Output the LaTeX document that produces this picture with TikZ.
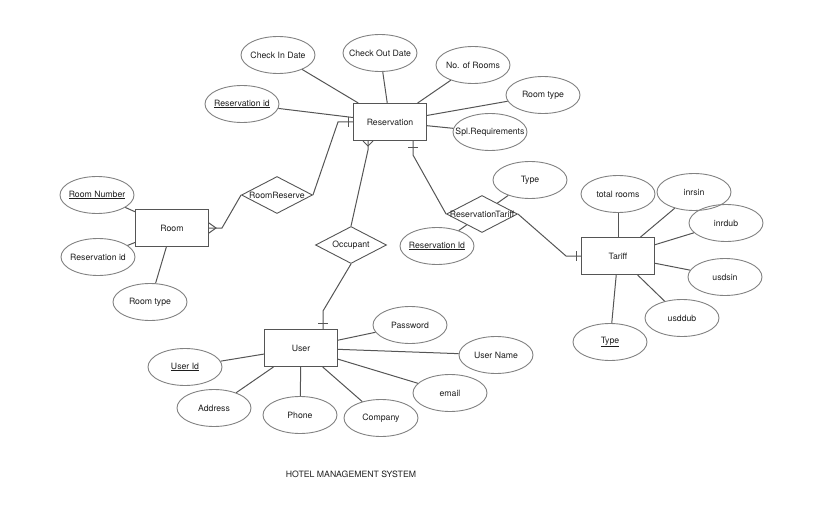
\documentclass[tikz,border=0pt]{standalone}
\usepackage{fontspec}
\setmainfont{TeX Gyre Heros}
\usetikzlibrary{shapes.geometric}
\definecolor{linegray}{RGB}{85,85,85}
\definecolor{rimgray}{RGB}{130,130,130}
\definecolor{textgray}{RGB}{30,30,30}
\tikzset{
  entity/.style={draw=linegray, line width=1pt, minimum width=73pt, minimum height=37pt, inner sep=0pt},
  attribute/.style={ellipse, draw=rimgray, line width=0.9pt, minimum width=74pt, minimum height=37pt, inner sep=0pt},
  relation/.style={diamond, draw=linegray, line width=0.9pt, minimum width=71pt, minimum height=37pt, inner sep=0pt},
  link/.style={draw=linegray, line width=1pt},
}
\begin{document}
\begin{tikzpicture}[x=1pt, y=-1pt, font=\fontsize{8.7}{10}\selectfont, text=textgray]
        \useasboundingbox (0,0) rectangle (823,511);
        % entities
        \node[entity] (resv) at (390,122) {Reservation};
        \node[entity] (room) at (172,228) {Room};
        \node[entity] (tariff) at (618,256) {Tariff};
        \node[entity] (user) at (301,348) {User};
        % relations
        \node[relation, label=center:RoomReserve] (roomreserve) at (277,195) {};
        \node[relation, label=center:Occupant] (occupant) at (351,245) {};
        \node[relation, label=center:ReservationTariff] (resvtariff) at (482,214) {};
        % reservation attributes
        \node[attribute, label=center:{\underline{Reservation id}}] (resvid) at (242,104) {};
        \node[attribute, label=center:Check In Date] (checkin) at (278,55) {};
        \node[attribute, label=center:Check Out Date] (checkout) at (380,53) {};
        \node[attribute, label=center:No. of Rooms] (numrooms) at (473,65) {};
        \node[attribute, label=center:Room type] (resvroomtype) at (543,95) {};
        \node[attribute, label=center:Spl.Requirements] (splreq) at (490,132) {};
        % room attributes
        \node[attribute, label=center:{\underline{Room Number}}] (roomnum) at (97,195) {};
        \node[attribute, label=center:Reservation id] (roomresvid) at (98,257) {};
        \node[attribute, label=center:Room type] (roomtype) at (150,302) {};
        % reservation tariff attributes
        \node[attribute, label=center:Type] (rtype) at (530,180) {};
        \node[attribute, label=center:{\underline{Reservation Id}}] (rresvid) at (437,246) {};
        % tariff attributes
        \node[attribute, label=center:total rooms] (totalrooms) at (618,194) {};
        \node[attribute, label=center:inrsin] (inrsin) at (694,192) {};
        \node[attribute, label=center:inrdub] (inrdub) at (726,223) {};
        \node[attribute, label=center:usdsin] (usdsin) at (725,277) {};
        \node[attribute, label=center:usddub] (usddub) at (682,318) {};
        \node[attribute, label=center:{\underline{Type}}] (tarifftype) at (610,342) {};
        % user attributes
        \node[attribute, label=center:{\underline{User Id}}] (userid) at (185,367) {};
        \node[attribute, label=center:Address] (address) at (214,408) {};
        \node[attribute, label=center:Phone] (phone) at (300,415) {};
        \node[attribute, label=center:Company] (company) at (381,418) {};
        \node[attribute, label=center:email] (email) at (450,393) {};
        \node[attribute, label=center:User Name] (username) at (496,355) {};
        \node[attribute, label=center:Password] (password) at (410,325) {};
        % attribute links
        \foreach \a in {resvid, checkin, checkout, numrooms, resvroomtype, splreq}
          \draw[link] (\a) -- (resv);
        \foreach \a in {roomnum, roomresvid, roomtype}
          \draw[link] (\a) -- (room);
        \foreach \a in {rtype, rresvid}
          \draw[link] (\a) -- (resvtariff);
        \foreach \a in {totalrooms, inrsin, inrdub, usdsin, usddub, tarifftype}
          \draw[link] (\a) -- (tariff);
        \foreach \a in {userid, address, phone, company, email, username, password}
          \draw[link] (\a) -- (user);
        % relation links
        \draw[link] (resv.west) -- ++(-15,0) -- (roomreserve.east);
        \draw[link] (roomreserve.west) -- ([xshift=13pt]room.east) -- (room.east);
        \draw[link] ([xshift=-22pt]resv.south) -- ++(0,9) -- (occupant.north);
        \draw[link] (occupant.south) -- ([xshift=22pt,yshift=18pt]user.north) -- ([xshift=22pt]user.north);
        \draw[link] ([xshift=23pt]resv.south) -- ++(0,14) -- (resvtariff.west);
        \draw[link] (resvtariff.east) -- ([xshift=-15pt]tariff.west) -- (tariff.west);
        % crow's feet
        \draw[link] ([xshift=-27pt]resv.south) -- ++(5,5) -- ++(5,-5);
        \draw[link] ([yshift=5pt]room.east) -- ++(7,5) -- ++(-7,5);
        % bars
        \draw[link] ([xshift=-5pt,yshift=5pt]resv.west) -- ++(0,10);
        \draw[link] ([xshift=18pt,yshift=-6pt]resv.south) -- ++(10,0);
        \draw[link] ([xshift=17pt,yshift=6pt]user.north) -- ++(10,0);
        \draw[link] ([xshift=-5pt,yshift=5pt]tariff.west) -- ++(0,10);
        \node (title) at (351,474) {HOTEL MANAGEMENT SYSTEM};
      \end{tikzpicture}
\end{document}
